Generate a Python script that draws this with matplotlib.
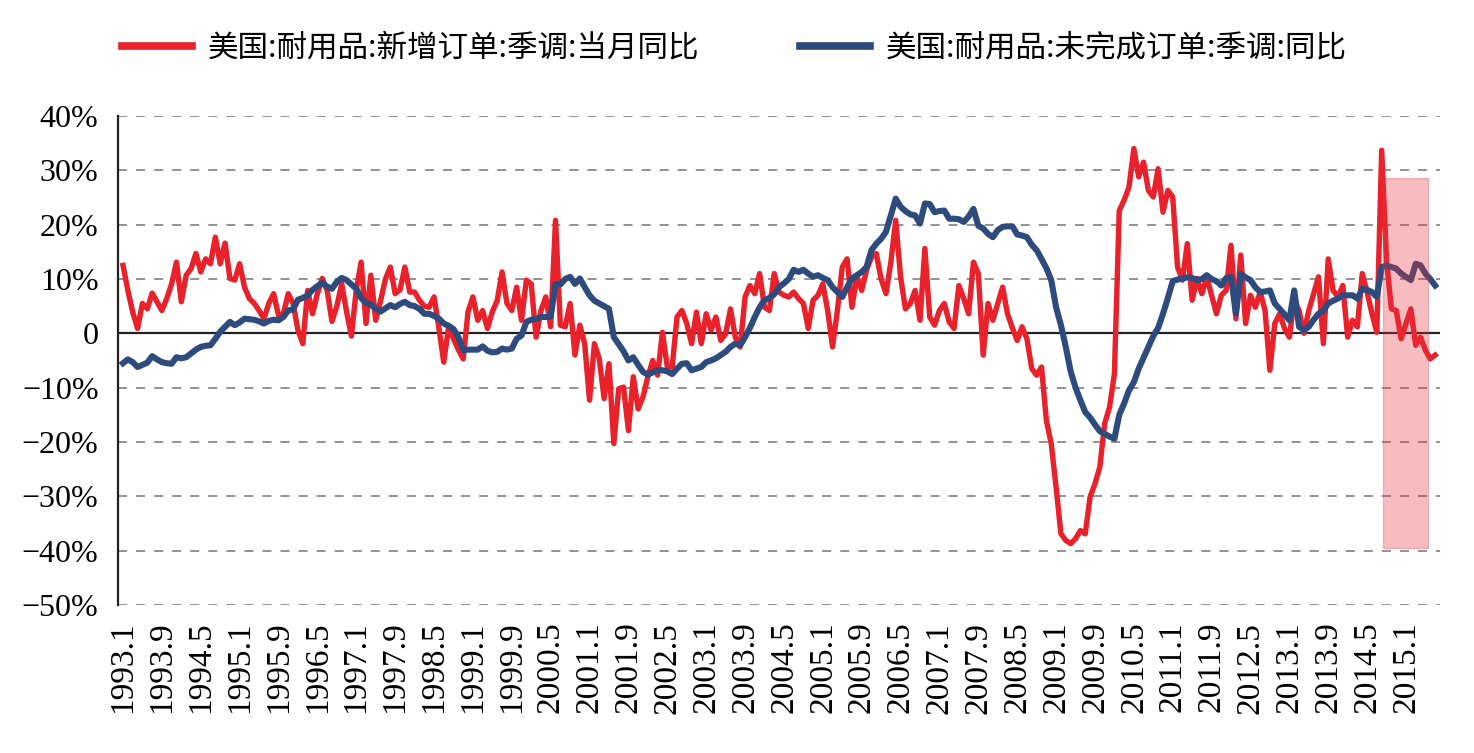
import numpy as np
import matplotlib
matplotlib.use('Agg')
import matplotlib.pyplot as plt
from matplotlib.patches import Rectangle

# 美国耐用品订单同比 (%), 月度, 1993.1 起
new_orders_yoy = [
    12.5, 7.9, 3.9, 0.9, 5.5, 4.5, 7.4, 5.8, 4.2, 6.4, 9.1, 13.1,
    5.8, 10.7, 11.9, 14.7, 11.3, 13.7, 12.8, 17.7, 12.8, 16.6, 10.1, 9.8,
    12.8, 8.5, 6.4, 5.5, 4.2, 2.7, 5.5, 7.3, 3.3, 3.6, 7.3, 5.5,
    0.6, -1.9, 7.9, 3.6, 7.3, 10.1, 7.9, 2.2, 5.0, 9.1, 4.0, -0.5,
    8.0, 13.1, 1.8, 10.7, 2.4, 6.0, 10.0, 12.2, 7.3, 8.0, 12.2, 7.6,
    7.6, 6.1, 5.0, 4.8, 6.7, 1.0, -5.3, 1.2, -1.0, -3.0, -4.7, 4.0,
    6.7, 2.4, 4.2, 0.9, 4.0, 6.0, 11.3, 5.5, 4.2, 8.5, 2.4, 9.8,
    9.1, -0.7, 4.2, 6.7, 1.2, 20.8, 1.5, 1.2, 5.5, -4.0, 1.5, -1.9,
    -12.3, -1.9, -4.7, -12.0, -5.6, -20.3, -10.2, -9.9, -17.9, -8.0, -13.9, -11.7,
    -8.0, -5.0, -7.7, 0.2, -6.2, -6.2, 3.0, 4.2, 1.8, -1.9, 3.9, -1.9,
    3.6, 0.6, 3.0, -1.3, -0.1, 4.5, -0.7, -2.5, 6.7, 8.8, 7.3, 11.0,
    4.8, 4.2, 11.0, 7.6, 7.0, 6.7, 7.6, 6.4, 5.5, 0.9, 6.1, 7.0,
    9.1, 4.2, -2.5, 4.2, 12.2, 13.7, 4.8, 10.4, 7.9, 11.6, 14.0, 14.7,
    10.0, 7.3, 13.1, 20.8, 10.4, 4.5, 5.5, 7.9, 2.4, 15.6, 3.0, 1.5,
    4.2, 5.5, 2.1, 0.9, 8.8, 6.4, 3.6, 13.1, 11.0, -4.0, 5.5, 2.4,
    5.5, 8.5, 3.6, 1.0, -1.3, 1.2, -1.0, -6.5, -7.7, -6.2, -16.0, -20.3,
    -28.3, -36.9, -38.1, -38.7, -37.8, -36.3, -36.9, -30.1, -27.7, -24.6, -16.6, -13.6,
    -7.5, 22.6, 24.5, 26.9, 34.0, 28.8, 31.5, 26.3, 25.1, 30.3, 22.3, 26.3,
    25.1, 12.2, 9.8, 16.5, 6.1, 10.1, 7.3, 10.4, 7.0, 3.6, 7.0, 7.9,
    16.2, 2.7, 14.4, 1.8, 7.0, 4.8, 7.6, 4.2, -6.8, 1.8, 3.6, 0.9,
    -0.7, 6.1, 4.2, 0.0, 4.2, 7.3, 10.4, -1.9, 13.7, 7.9, 6.7, 8.8,
    -0.7, 2.4, 1.2, 11.0, 7.6, 3.6, 0.2, 33.7, 13.4, 4.5, 4.2, -1.0,
    1.8, 4.5, -2.2, -0.7, -3.1, -4.7, -4.0,
]

unfilled_orders_yoy = [
    -5.5, -4.8, -5.3, -6.2, -5.8, -5.4, -4.2, -4.8, -5.3, -5.5, -5.6, -4.4,
    -4.6, -4.4, -3.7, -3.0, -2.5, -2.3, -2.2, -1.0, 0.3, 1.2, 2.1, 1.5,
    2.0, 2.7, 2.6, 2.5, 2.2, 1.8, 2.3, 2.5, 2.4, 3.0, 4.2, 4.4,
    6.2, 6.5, 7.0, 8.0, 8.7, 9.3, 8.6, 8.2, 9.5, 10.2, 9.8, 9.0,
    8.2, 6.5, 5.6, 5.3, 4.5, 4.0, 4.6, 5.2, 4.8, 5.4, 5.8, 5.2,
    5.0, 4.5, 3.6, 3.6, 3.2, 2.7, 1.8, 1.4, 0.8, -0.7, -3.1, -3.0,
    -3.0, -3.0, -2.4, -3.2, -3.5, -3.4, -2.8, -3.0, -2.8, -1.0, -0.4, 2.1,
    2.5, 2.7, 3.0, 3.0, 3.1, 9.1, 9.0, 10.0, 10.4, 9.1, 10.1, 8.5,
    7.0, 6.0, 5.5, 5.0, 4.5, -0.7, -2.0, -3.3, -5.0, -4.4, -5.8, -7.1,
    -7.6, -7.2, -6.8, -6.8, -7.0, -7.5, -6.5, -5.6, -5.5, -6.8, -6.5, -6.2,
    -5.3, -5.0, -4.6, -4.0, -3.4, -2.5, -1.9, -2.2, -0.7, 1.0, 3.0, 4.8,
    6.1, 6.5, 7.2, 8.5, 9.2, 10.0, 11.7, 11.3, 11.7, 11.0, 10.4, 10.7,
    10.2, 9.8, 8.5, 7.6, 6.7, 8.5, 10.1, 10.7, 11.3, 12.2, 15.3, 16.5,
    17.4, 18.7, 21.7, 24.8, 23.3, 22.5, 21.9, 21.7, 20.2, 23.9, 23.8, 22.3,
    22.5, 22.6, 21.1, 21.1, 21.0, 20.5, 21.5, 22.9, 19.8, 19.3, 18.3, 17.7,
    19.0, 19.6, 19.7, 19.7, 18.2, 18.0, 17.7, 16.3, 15.3, 13.7, 12.0, 9.8,
    4.8, 1.5, -2.5, -7.0, -10.0, -12.3, -14.5, -15.5, -16.8, -18.0, -18.5, -19.0,
    -19.4, -15.0, -12.9, -10.5, -9.0, -6.5, -4.5, -2.5, -0.5, 1.0, 3.6, 6.5,
    9.6, 9.9, 10.1, 10.3, 10.2, 9.8, 10.0, 10.7, 10.0, 9.6, 8.8, 10.2,
    10.4, 3.6, 11.0, 10.3, 9.8, 8.5, 7.6, 7.7, 7.9, 5.5, 4.5, 3.5,
    2.4, 7.9, 1.2, 0.6, 1.2, 2.5, 3.6, 4.2, 5.5, 6.0, 6.4, 7.0,
    7.0, 7.0, 6.4, 8.2, 8.0, 7.6, 6.7, 12.2, 12.5, 12.2, 11.9, 11.0,
    10.4, 9.8, 12.8, 12.5, 11.0, 10.0, 8.8,
]

series_names = ['美国:耐用品:新增订单:季调:当月同比', '美国:耐用品:未完成订单:季调:同比']
start_year, start_month = 1993, 1
label_step = 8
y_ticks = [40, 30, 20, 10, 0, -10, -20, -30, -40, -50]

# 高亮区间 (月序号) 及其纵向范围
highlight_months = (259.3, 268.5)
highlight_range = (-39.5, 28.5)

n = len(new_orders_yoy)
months = np.arange(n)
labels = ['%d.%d' % (start_year + (start_month - 1 + i) // 12, (start_month - 1 + i) % 12 + 1)
          for i in months]

red = '#e8212b'
blue = '#2d4b7d'

fig = plt.figure(figsize=(14.74, 7.53), dpi=100)
ax = fig.add_axes([118 / 1474, 148 / 753, (1440 - 118) / 1474, (605 - 116) / 753])

ax.plot(months, new_orders_yoy, color=red, lw=3.9, solid_joinstyle='round',
        label=series_names[0], zorder=3)
ax.plot(months, unfilled_orders_yoy, color=blue, lw=4.4, solid_joinstyle='round',
        label=series_names[1], zorder=3)

ax.add_patch(Rectangle((highlight_months[0], highlight_range[0]),
                       highlight_months[1] - highlight_months[0],
                       highlight_range[1] - highlight_range[0],
                       facecolor='#e8303c', alpha=0.32, edgecolor='#d04050',
                       lw=1.0, zorder=4))

ax.set_xlim(-1.03, 271.0)
ax.set_ylim(-50, 40)

# 网格与零轴
for v in y_ticks:
    if v != 0:
        ax.axhline(v, color='#8a8a8a', lw=1.3, ls=(0, (5, 5)), zorder=1)
ax.axhline(0, color='#222222', lw=1.6, zorder=2)

for s in ['top', 'right', 'bottom']:
    ax.spines[s].set_visible(False)
ax.spines['left'].set_color('#222222')
ax.spines['left'].set_linewidth(1.6)

ax.set_yticks(y_ticks)
ax.set_yticklabels([('%d%%' % v if v != 0 else '0').replace('-', '\u2212') for v in y_ticks],
                   family='Liberation Serif', fontsize=23)
ax.tick_params(axis='y', length=0, pad=14)

tick_idx = months[::label_step]
ax.set_xticks(tick_idx)
ax.set_xticklabels([labels[i] for i in tick_idx], rotation=90,
                   family='Liberation Serif', fontsize=24)
ax.tick_params(axis='x', length=0, pad=12)

fig.legend(loc='center left', bbox_to_anchor=(122 / 1474, 1 - 48 / 753), ncol=2,
           frameon=False, prop={'family': ['Noto Sans CJK SC', 'DejaVu Sans'], 'size': 22},
           handlelength=2.3, handletextpad=0.5, columnspacing=3.3,
           borderpad=0, borderaxespad=0)
for line in fig.legends[0].get_lines():
    line.set_linewidth(5.5)

fig.savefig('out.png', dpi=100)
